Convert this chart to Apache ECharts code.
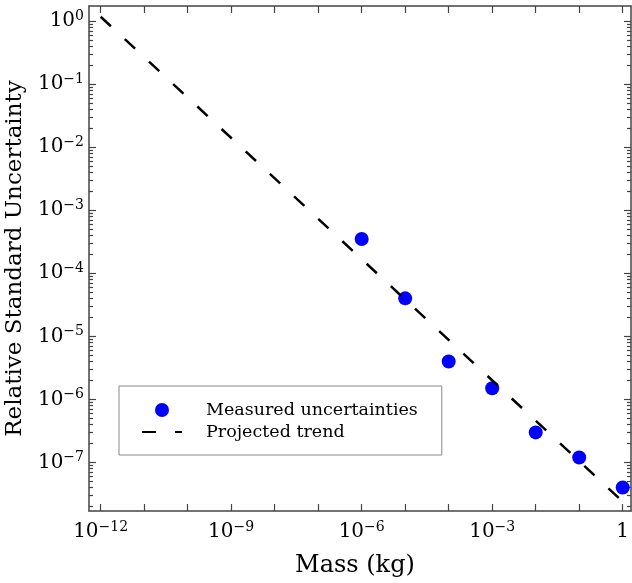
<!DOCTYPE html>
<html>
<head>
<meta charset="utf-8">
<script src="https://cdn.jsdelivr.net/npm/echarts@6/dist/echarts.min.js"></script>
<style>
  html, body { margin: 0; padding: 0; background: #fff; }
  #chart { width: 632px; height: 583px; }
</style>
</head>
<body>
<div id="chart"></div>
<script>
// measured points (mass in kg, relative standard uncertainty)
var massKg = [1e-6, 1e-5, 1e-4, 1e-3, 1e-2, 1e-1, 1];
var measured = [3.5e-4, 4.0e-5, 4.0e-6, 1.5e-6, 3.0e-7, 1.2e-7, 4.0e-8];

// projected trend end points
var trendMass = [1e-12, 1];
var trendValue = [1.17, 2.4e-8];

// axis ranges and ticks
var xRange = [5.4e-13, 1.55];
var yRange = [1.7e-8, 1.73];
var xTicks = [1e-12, 1e-11, 1e-10, 1e-9, 1e-8, 1e-7, 1e-6, 1e-5, 1e-4, 1e-3, 1e-2, 1e-1, 1];
var xLabels = [1e-12, 1e-9, 1e-6, 1e-3, 1];
var yTicks = [1, 1e-1, 1e-2, 1e-3, 1e-4, 1e-5, 1e-6, 1e-7];

var yMinor = [];
[1e-8, 1e-7, 1e-6, 1e-5, 1e-4, 1e-3, 1e-2, 1e-1, 1].forEach(function (d) {
  for (var k = 2; k <= 9; k++) yMinor.push(d * k);
});

var FONT = 'DejaVu Serif';
var AXIS_COLOR = '#444';

var richLabel = {
  b: { fontFamily: FONT, fontSize: 20, color: '#000', lineHeight: 24 },
  s: { fontFamily: FONT, fontSize: 14, color: '#000', lineHeight: 24, verticalAlign: 'top', padding: [0, 0, 9, 0] }
};

function xAxisDef(pos, withLabels) {
  return {
    type: 'log', logBase: 10, position: pos, offset: 0,
    min: xRange[0], max: xRange[1],
    axisLine: { show: true, lineStyle: { color: AXIS_COLOR, width: 1.5 } },
    axisTick: { show: true, inside: true, length: 7, customValues: xTicks,
      lineStyle: { color: AXIS_COLOR, width: 1.2 } },
    axisLabel: { show: withLabels, customValues: xLabels, margin: 9,
      formatter: function (v) {
        var e = Math.round(Math.log10(v));
        if (e === 0) return '{b|1}';
        return '{b|10}{s|' + String(e).replace('-', '\u2212') + '}';
      },
      rich: richLabel },
    splitLine: { show: false },
    minorTick: { show: false },
    name: withLabels ? 'Mass (kg)' : '',
    nameLocation: 'middle', nameGap: 43,
    nameTextStyle: { fontFamily: FONT, fontSize: 24, color: '#000', padding: [0, 10, 0, 0] }
  };
}

function yAxisDef(pos, major, withLabels) {
  return {
    type: 'log', logBase: 10, position: pos, offset: 0,
    min: yRange[0], max: yRange[1],
    axisLine: { show: major, lineStyle: { color: AXIS_COLOR, width: 1.5 } },
    axisTick: { show: true, inside: true, length: major ? 7 : 4,
      customValues: major ? yTicks : yMinor,
      lineStyle: { color: AXIS_COLOR, width: 1.2 } },
    axisLabel: { show: withLabels, customValues: yTicks, margin: 5,
      formatter: function (v) {
        var e = Math.round(Math.log10(v));
        return '{b|10}{s|' + String(e).replace('-', '\u2212') + '}';
      },
      rich: richLabel },
    splitLine: { show: false },
    name: withLabels ? 'Relative Standard Uncertainty' : '',
    nameLocation: 'middle', nameGap: 48, nameRotate: 90,
    nameTextStyle: { fontFamily: FONT, fontSize: 23, color: '#000' }
  };
}

var chart = echarts.init(document.getElementById('chart'), null, { renderer: 'canvas' });
chart.setOption({
  animation: false,
  backgroundColor: '#fff',
  grid: { left: 89, right: 1, top: 6, bottom: 72, containLabel: false, outerBoundsMode: 'none' },
  xAxis: [xAxisDef('bottom', true), xAxisDef('top', false)],
  yAxis: [
    yAxisDef('left', true, true),
    yAxisDef('left', false, false),
    yAxisDef('right', true, false),
    yAxisDef('right', false, false)
  ],
  legend: {
    orient: 'vertical', left: 119, top: 386,
    padding: [14, 24, 13, 22],
    itemWidth: 40, itemHeight: 14, itemGap: 2,
    backgroundColor: '#fff',
    borderColor: '#888', borderWidth: 1, borderRadius: 0,
    textStyle: { fontFamily: FONT, fontSize: 17.5, color: '#000', lineHeight: 20, padding: [0, 0, 0, 19] },
    data: [
      { name: 'Measured uncertainties' },
      { name: 'Projected trend', itemStyle: { opacity: 0 } }
    ]
  },
  series: [
    {
      name: 'Measured uncertainties', type: 'scatter',
      xAxisIndex: 0, yAxisIndex: 0,
      symbol: 'circle', symbolSize: 14,
      itemStyle: { color: '#0000ff', opacity: 1 },
      data: massKg.map(function (m, i) { return [m, measured[i]]; })
    },
    {
      name: 'Projected trend', type: 'line',
      xAxisIndex: 0, yAxisIndex: 0,
      symbol: 'none', showSymbol: false,
      itemStyle: { color: '#000' },
      lineStyle: { color: '#000', width: 2.5, type: [14, 19] },
      data: trendMass.map(function (m, i) { return [m, trendValue[i]]; })
    }
  ]
});
</script>
</body>
</html>
